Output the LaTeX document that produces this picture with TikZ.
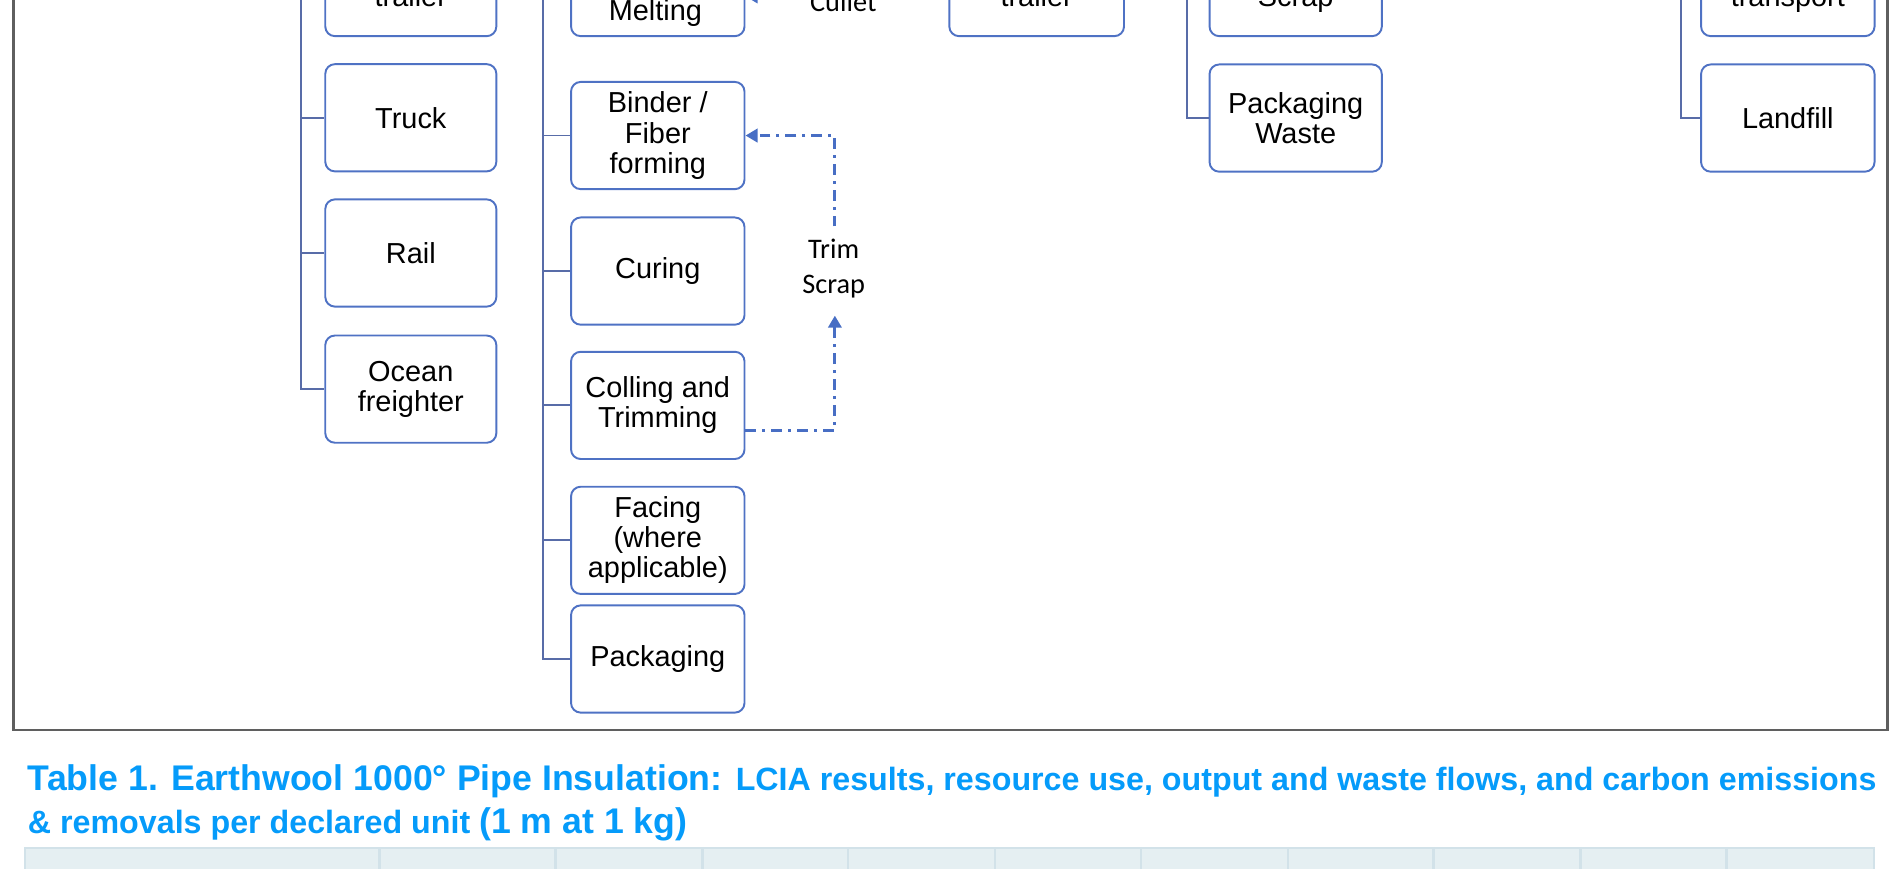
\documentclass[tikz,border=0pt]{standalone}
\usepackage{fontspec}
\setmainfont{Liberation Sans}
\newfontfamily\calib{Carlito}
\usetikzlibrary{arrows.meta,calc}
\definecolor{boxblue}{RGB}{79,114,196}
\definecolor{treeblue}{RGB}{88,108,168}
\definecolor{flowblue}{RGB}{72,110,196}
\definecolor{framegray}{RGB}{95,95,95}
\definecolor{titleblue}{RGB}{5,155,250}
\definecolor{hdrfill}{RGB}{229,239,242}
\definecolor{hdrline}{RGB}{210,226,233}
\begin{document}
\begin{tikzpicture}[x=1pt,y=-1pt,
  box/.style={draw=boxblue, line width=1.6pt, rounded corners=8pt,
    minimum width=#1, minimum height=89pt, inner sep=0pt, align=center,
    font=\fontsize{24}{25}\selectfont},
  box/.default=143pt,
  txt/.style={inner sep=0pt, anchor=base, font=\fontsize{24}{25}\selectfont},
  cal/.style={inner sep=0pt, align=center, font=\calib\fontsize{23.5}{29}\selectfont},
  tree/.style={draw=treeblue, line width=1.5pt},
  flow/.style={draw=flowblue, line width=2.5pt,
    dash pattern=on 9pt off 5pt on 2.5pt off 5pt,
    -{Triangle[length=10pt,width=11pt]}},
  ttl/.style={inner sep=0pt, anchor=base west, text=titleblue, font=\bfseries}
]
\useasboundingbox (0,0) rectangle (1568,721.3);
\clip (0,0) rectangle (1568,721.3);

% column 1 : transport
\node[box=142pt] (trl1) at (341,-14.5) {};
\node[txt] (trl1t) at (341,5) {trailer};
\node[box=142pt] (truck) at (341,97.75) {Truck};
\node[box=142pt] (rail) at (341,210) {Rail};
\node[box=142pt] (ocean) at (341,323) {Ocean\\freighter};
\coordinate (c1) at (250,-80);
\draw[tree] (c1) |- (ocean.west);
\draw[tree] (c1 |- truck.west) -- (truck.west);
\draw[tree] (c1 |- rail.west) -- (rail.west);

% column 2 : manufacturing
\node[box=144pt] (melt) at (546,-14.5) {};
\node[txt] (meltt) at (544,17) {Melting};
\node[box=144pt] (binder) at (546,112.5) {Binder /\\Fiber\\forming};
\node[box=144pt] (curing) at (546,225) {Curing};
\node[box=144pt] (colling) at (546,336.5) {Colling and\\Trimming};
\node[box=144pt] (facing) at (546,448.5) {Facing\\(where\\applicable)};
\node[box=144pt] (pack) at (546,547) {Packaging};
\coordinate (c2) at (451,-80);
\draw[tree] (c2) |- (pack.west);
\draw[tree] (c2 |- binder.west) -- (binder.west);
\draw[tree] (c2 |- curing.west) -- (curing.west);
\draw[tree] (c2 |- colling.west) -- (colling.west);
\draw[tree] (c2 |- facing.west) -- (facing.west);

% cullet and trim scrap
\node[cal, anchor=base] (cullet) at (700,9.5) {Cullet};
\coordinate (cul) at (668,-3);
\draw[flow] (cul) -- (melt.east |- cul);
\node[cal] (trim) at (692,223) {Trim\\Scrap};
\coordinate (t1) at (693,188);
\coordinate (t2) at (693,262);
\coordinate (cs) at ($(colling.east)+(0,20.5)$);
\draw[flow] (t1) |- (binder.east);
\draw[flow] (cs) -| (t2);

% column 3
\node[box=145pt] (trl2) at (860.5,-14.5) {};
\node[txt] (trl2t) at (860.5,5.5) {trailer};

% column 4 : waste
\node[box=143pt] (scrap) at (1075.5,-14.5) {};
\node[txt] (scrapt) at (1075.5,5) {Scrap};
\node[box=143pt] (pwaste) at (1075.5,98) {Packaging\\Waste};
\coordinate (c4) at (985,-80);
\draw[tree] (c4) |- (pwaste.west);

% column 5 : end of life
\node[box=144pt] (trans) at (1484,-14.5) {};
\node[txt] (transt) at (1484,5.5) {transport};
\node[box=144pt] (landfill) at (1484,98) {Landfill};
\coordinate (c5) at (1395,-80);
\draw[tree] (c5) |- (landfill.west);

% outer frame
\draw[framegray, line width=2.3pt] (11,-10) -- (11,606) -- (1566.8,606) -- (1566.8,-10);

% table title
\node[ttl] (title1) at (23,656) {{\fontsize{29.6}{32}\selectfont Table 1. Earthwool 1000° Pipe Insulation: }{\fontsize{26.75}{32}\selectfont LCIA results, resource use, output and waste flows, and carbon emissions}};
\node[ttl] (title2) at (23,692) {{\fontsize{26.75}{32}\selectfont \& removals per declared unit }{\fontsize{29.6}{32}\selectfont (1 m at 1 kg)}};

% table header
\fill[hdrfill] (20,703) rectangle (1556,725);
\draw[hdrline, line width=1.5pt] (20,703.7) -- (1556,703.7);
\draw[hdrline, line width=1.5pt] (20.7,703) -- (20.7,725);
\draw[hdrline, line width=1.5pt] (1555.3,703) -- (1555.3,725);
\foreach \x in {315,461,583,704,826,947,1069,1190,1312,1433}
  \draw[hdrline, line width=2pt] (\x,703) -- (\x,725);
\end{tikzpicture}
\end{document}
